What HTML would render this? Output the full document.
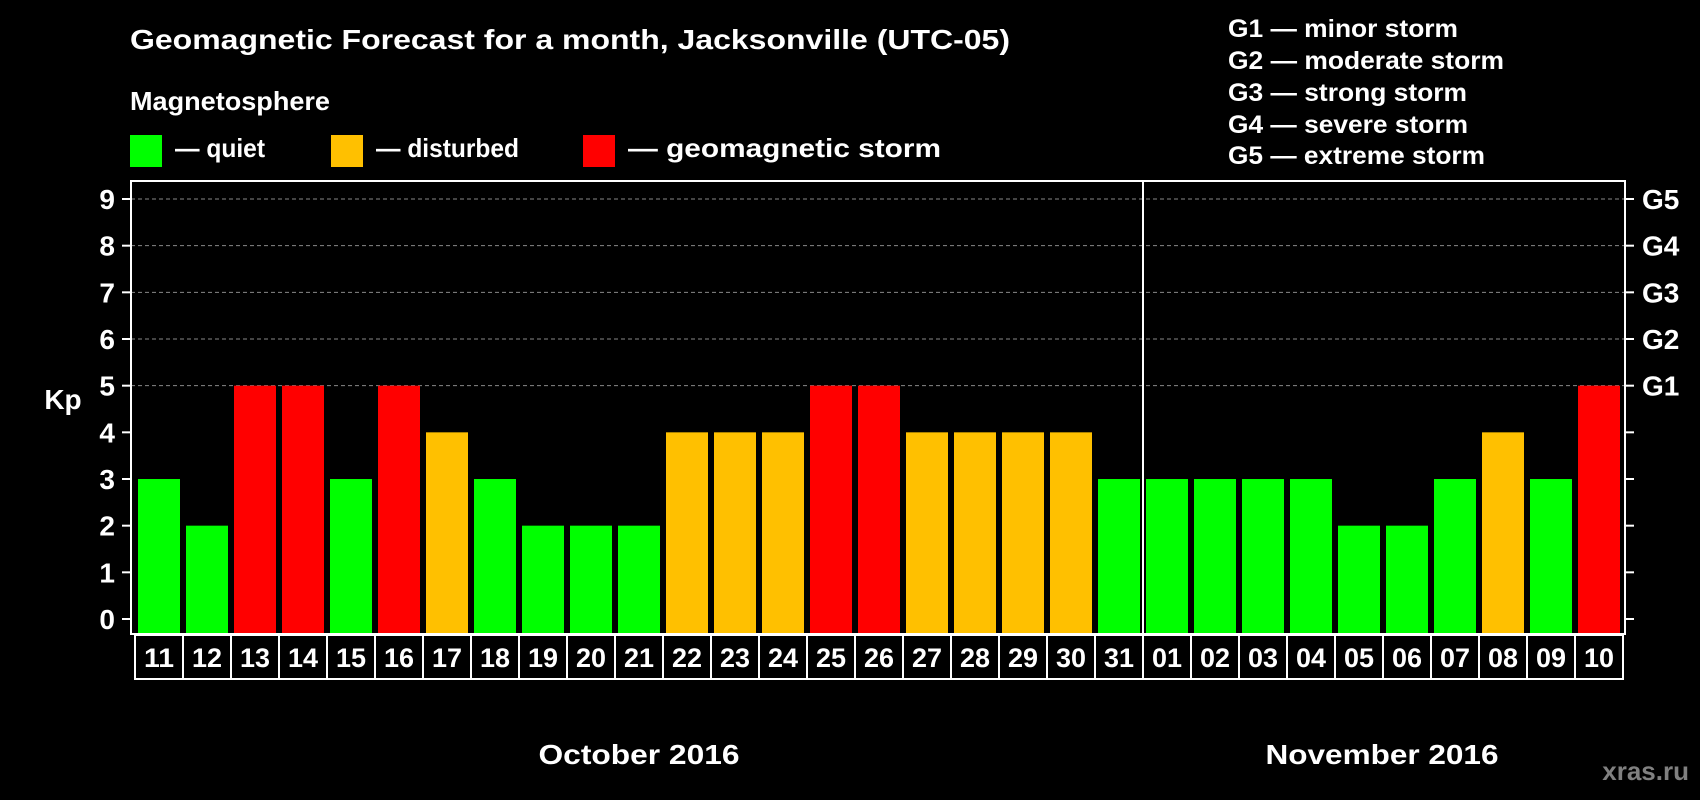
<!DOCTYPE html>
<html><head><meta charset="utf-8"><style>
html,body{margin:0;padding:0;background:#000;}
svg{display:block;font-family:"Liberation Sans",Arial,sans-serif;font-weight:bold;}
</style></head><body>
<svg id="chart" width="1700" height="800" viewBox="0 0 1700 800">
<rect x="0" y="0" width="1700" height="800" fill="#000"/>
<text x="130" y="49" fill="#fff" font-size="28" textLength="880" lengthAdjust="spacingAndGlyphs">Geomagnetic Forecast for a month, Jacksonville (UTC-05)</text>
<text x="130" y="110" fill="#fff" font-size="26" textLength="200" lengthAdjust="spacingAndGlyphs">Magnetosphere</text>
<g>
<rect x="130" y="135" width="32" height="32" fill="#00ff00"/>
<text x="175" y="157" fill="#fff" font-size="26" textLength="90" lengthAdjust="spacingAndGlyphs">— quiet</text>
<rect x="331" y="135" width="32" height="32" fill="#ffc000"/>
<text x="376" y="157" fill="#fff" font-size="26" textLength="143" lengthAdjust="spacingAndGlyphs">— disturbed</text>
<rect x="583" y="135" width="32" height="32" fill="#ff0000"/>
<text x="628" y="157" fill="#fff" font-size="26" textLength="313" lengthAdjust="spacingAndGlyphs">— geomagnetic storm</text>
</g>
<g fill="#fff" font-size="25">
<text x="1228" y="37" textLength="230" lengthAdjust="spacingAndGlyphs">G1 — minor storm</text>
<text x="1228" y="69" textLength="276" lengthAdjust="spacingAndGlyphs">G2 — moderate storm</text>
<text x="1228" y="101" textLength="239" lengthAdjust="spacingAndGlyphs">G3 — strong storm</text>
<text x="1228" y="133" textLength="240" lengthAdjust="spacingAndGlyphs">G4 — severe storm</text>
<text x="1228" y="164" textLength="257" lengthAdjust="spacingAndGlyphs">G5 — extreme storm</text>
</g>
<g id="grid"></g>
<g id="bars"></g>
<g id="axes"></g>
<text x="63" y="409" fill="#fff" font-size="28" text-anchor="middle">Kp</text>
<text x="639" y="764" fill="#fff" font-size="28" text-anchor="middle" textLength="201" lengthAdjust="spacingAndGlyphs">October 2016</text>
<text x="1382" y="764" fill="#fff" font-size="28" text-anchor="middle" textLength="233" lengthAdjust="spacingAndGlyphs">November 2016</text>
<text x="1689" y="780" fill="#808080" font-size="26" text-anchor="end">xras.ru</text>
</svg>
<script>
const days = ["11","12","13","14","15","16","17","18","19","20","21","22","23","24","25","26","27","28","29","30","31","01","02","03","04","05","06","07","08","09","10"];
const kpValues = [3,2,5,5,3,5,4,3,2,2,2,4,4,4,5,5,4,4,4,4,3,3,3,3,3,2,2,3,4,3,5];
const yTicks = [0,1,2,3,4,5,6,7,8,9];
const gLabels = ["G1","G2","G3","G4","G5"];
const gLevels = [5,6,7,8,9];

const NS = "http://www.w3.org/2000/svg";
const plotL = 131, plotR = 1625, plotT = 181, plotB = 634;
const y0 = 619, unit = (619 - 199) / 9;
const slot0 = 135, pitch = 48;
function yScale(v){ return y0 - v * unit; }
function xSlot(i){ return slot0 + i * pitch; }
function mk(tag, attrs, parent){
  const el = document.createElementNS(NS, tag);
  for (const k in attrs) el.setAttribute(k, attrs[k]);
  parent.appendChild(el);
  return el;
}
function color(v){ return v >= 5 ? "#ff0000" : (v >= 4 ? "#ffc000" : "#00ff00"); }

const grid = document.getElementById("grid");
const bars = document.getElementById("bars");
const axes = document.getElementById("axes");

gLevels.forEach(function(v){
  const y = yScale(v);
  const ln = mk("line", {x1: plotL, x2: plotR, y1: y, y2: y, stroke: "#888", "stroke-width": 1, "stroke-dasharray": "4,3"}, grid);
  
  
});

kpValues.forEach(function(v, i){
  const x = xSlot(i) + 3;
  const r = mk("rect", {x: x, y: yScale(v), width: 42, height: plotB - yScale(v), fill: color(v)}, bars);
  
  
});

const frame = mk("rect", {x: plotL, y: plotT, width: plotR - plotL, height: plotB - plotT, fill: "none", stroke: "#fff", "stroke-width": 2}, axes);



yTicks.forEach(function(v){
  const y = yScale(v);
  const t1 = mk("line", {x1: 122, x2: plotL, y1: y, y2: y, stroke: "#fff", "stroke-width": 2}, axes);
  
  
  const t2 = mk("line", {x1: plotR, x2: 1634, y1: y, y2: y, stroke: "#fff", "stroke-width": 2}, axes);
  
  
  const lb = mk("text", {x: 115, y: y + 10, fill: "#fff", "font-size": 28, "text-anchor": "end"}, axes);
  lb.textContent = v;
  
  
});

gLabels.forEach(function(g, i){
  const lb = mk("text", {x: 1642, y: yScale(gLevels[i]) + 10, fill: "#fff", "font-size": 28}, axes);
  lb.textContent = g;
  
  
});

days.forEach(function(d, i){
  const x = xSlot(i);
  const box = mk("rect", {x: x, y: 635, width: pitch, height: 44, fill: "#000", stroke: "#fff", "stroke-width": 2}, axes);
  
  
  const lb = mk("text", {x: x + pitch / 2, y: 667, fill: "#fff", "font-size": 27, "text-anchor": "middle", textLength: 30, lengthAdjust: "spacingAndGlyphs"}, axes);
  lb.textContent = d;
  
  
});

const splitIdx = days.indexOf("01");
const sx = xSlot(splitIdx);
const div = mk("line", {x1: sx, x2: sx, y1: plotT, y2: 679, stroke: "#fff", "stroke-width": 2}, axes);


</script>
</body></html>
